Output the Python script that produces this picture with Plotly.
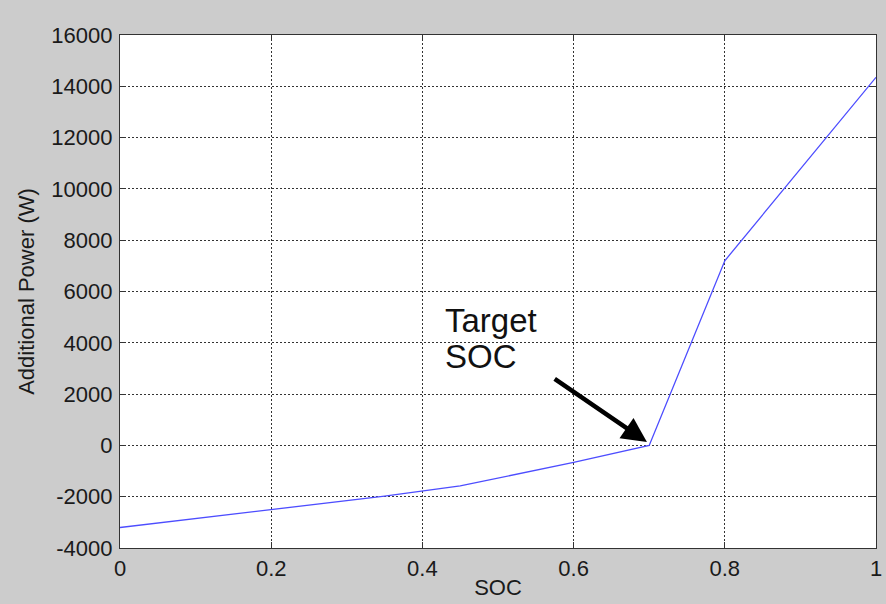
import plotly.graph_objects as go

soc = [0.0, 0.2, 0.35, 0.45, 0.6, 0.7, 0.8, 1.0]
power = [-3200, -2500, -1980, -1580, -660, 0, 7200, 14350]

x_ticks = [0, 0.2, 0.4, 0.6, 0.8, 1]
x_ticklabels = ["0", "0.2", "0.4", "0.6", "0.8", "1"]
y_ticks = list(range(-4000, 16001, 2000))
y_ticklabels = [str(v) for v in y_ticks]

target_soc = 0.7
target_power = 0

FONT = "Liberation Sans, Arial, sans-serif"
BG = "#cccccc"

fig = go.Figure()
fig.add_trace(go.Scatter(x=soc, y=power, mode="lines",
                         line=dict(color="#4d4dff", width=1.3),
                         showlegend=False, hoverinfo="x+y"))

axis_common = dict(
    showline=True, linecolor="#333333", linewidth=1.3, mirror="ticks",
    ticks="inside", ticklen=6, tickcolor="#333333", tickwidth=1,
    showgrid=True, gridcolor="#333333", gridwidth=1, griddash="2px,2px",
    zeroline=False, tickfont=dict(family=FONT, size=22, color="#1a1a1a"),
    title_font=dict(family=FONT, size=22, color="#1a1a1a"),
)

fig.update_xaxes(range=[0, 1], tickvals=x_ticks, ticktext=x_ticklabels,
                 title_text="SOC", title_standoff=0, **axis_common)
fig.update_yaxes(range=[-4000, 16000], tickvals=y_ticks, ticktext=y_ticklabels,
                 title_text="Additional Power (W)", title_standoff=10,
                 ticklabelstandoff=2, **axis_common)

# arrow pointing to target SOC
fig.add_annotation(x=target_soc - 0.003, y=target_power + 130,
                   ax=0.573, ay=2630, xref="x", yref="y", axref="x", ayref="y",
                   showarrow=True, arrowhead=2, arrowsize=1.1, arrowwidth=4.5,
                   arrowcolor="#000000", text="")
fig.add_annotation(x=0.427, y=4870, xref="x", yref="y", showarrow=False,
                   text="Target", xanchor="left", yanchor="middle",
                   font=dict(family=FONT, size=33, color="#111111"))
fig.add_annotation(x=0.427, y=3480, xref="x", yref="y", showarrow=False,
                   text="SOC", xanchor="left", yanchor="middle",
                   font=dict(family=FONT, size=33, color="#111111"))

fig.update_layout(
    width=886, height=604,
    margin=dict(l=120, r=10, t=35, b=56, autoexpand=False),
    paper_bgcolor=BG, plot_bgcolor="#ffffff",
    font=dict(family=FONT, size=22, color="#1a1a1a"),
)

fig.write_html("out.html")
